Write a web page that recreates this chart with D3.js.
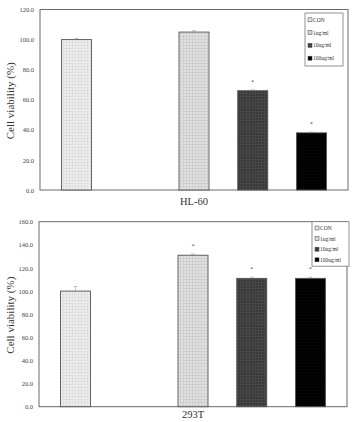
<!DOCTYPE html>
<html><head><meta charset="utf-8">
<script src="https://cdn.jsdelivr.net/npm/d3@7"></script>
<style>body{margin:0;background:#fff}svg{display:block}text{font-family:"Liberation Serif","DejaVu Serif",serif}</style>
</head><body>
<svg id="c" width="353" height="422"></svg>
<script>
// data
const slots = ["CON", "gap", "1ug/ml", "10ug/ml", "100ug/ml"];
const legendLabels = ["CON", "1ug/ml", "10ug/ml", "100ug/ml"];
const hl60Values = [100.0, 105.0, 66.0, 38.0];
const hl60Errors = [0.8, 0.8, 0.6, 0.5];
const hl60Sig = [false, false, true, true];
const t293Values = [100.0, 131.0, 111.0, 111.0];
const t293Errors = [4.0, 1.0, 1.0, 1.0];
const t293Sig = [false, true, true, true];
const hl60Ticks = [0, 20, 40, 60, 80, 100, 120];
const t293Ticks = [0, 20, 40, 60, 80, 100, 120, 140, 160];

const svg = d3.select("#c");
const defs = svg.append("defs");
const patSpec = [
  {id: "p0", base: "#ededed", line: "#d6d6d6"},
  {id: "p1", base: "#e0e0e0", line: "#c4c4c4"},
  {id: "p2", base: "#3a3a3a", line: "#505050"},
  {id: "p3", base: "#000000", line: "#080808"}
];
patSpec.forEach(p => {
  const pt = defs.append("pattern").attr("id", p.id).attr("patternUnits", "userSpaceOnUse")
    .attr("width", 3).attr("height", 3);
  pt.append("rect").attr("width", 3).attr("height", 3).attr("fill", p.base);
  pt.append("rect").attr("x", 0).attr("y", 0).attr("width", 3).attr("height", 0.5).attr("fill", p.line);
  pt.append("rect").attr("x", 0).attr("y", 0).attr("width", 0.5).attr("height", 3).attr("fill", p.line);
});

function panel(cfg) {
  const {x0, x1, y0, y1, max, ticks, values, errors, sig, label, labelY, legend} = cfg;
  const g = svg.append("g");
  const x = d3.scaleBand().domain(slots).range([x0, x1]).paddingInner(0.489).paddingOuter(0.366);
  const y = d3.scaleLinear().domain([0, max]).range([y1, y0]);
  const keys = slots.filter(s => s !== "gap");

  // frame
  g.append("rect").attr("x", x0).attr("y", y0).attr("width", x1 - x0).attr("height", y1 - y0)
    .attr("fill", "none").attr("stroke", "#6a6a6a").attr("stroke-width", 1);

  // y axis
  const ax = g.append("g").attr("transform", `translate(${x0},0)`)
    .call(d3.axisLeft(y).tickValues(ticks).tickFormat(d3.format(".1f")).tickSize(0).tickPadding(6));
  ax.select(".domain").remove();
  ax.selectAll("text").attr("font-size", 6.5).attr("fill", "#444")
    .style("font-family", '"Liberation Serif","DejaVu Serif",serif');

  // bars
  const data = keys.map((k, i) => ({k, v: values[i], e: errors[i], s: sig[i], i}));
  g.selectAll("rect.bar").data(data).enter().append("rect").attr("class", "bar")
    .attr("x", d => x(d.k)).attr("y", d => y(d.v))
    .attr("width", x.bandwidth()).attr("height", d => y(0) - y(d.v))
    .attr("fill", d => `url(#p${d.i})`).attr("stroke", "#555").attr("stroke-width", 0.9);

  // error bars
  const eb = g.selectAll("g.eb").data(data).enter().append("g").attr("stroke", "#888").attr("stroke-width", 0.5);
  eb.append("line").attr("x1", d => x(d.k) + x.bandwidth() / 2).attr("x2", d => x(d.k) + x.bandwidth() / 2)
    .attr("y1", d => y(d.v)).attr("y2", d => y(d.v + d.e));
  eb.append("line").attr("x1", d => x(d.k) + x.bandwidth() / 2 - 2).attr("x2", d => x(d.k) + x.bandwidth() / 2 + 2)
    .attr("y1", d => y(d.v + d.e)).attr("y2", d => y(d.v + d.e));

  // significance asterisks
  g.selectAll("text.sig").data(data.filter(d => d.s)).enter().append("text").attr("class", "sig")
    .attr("x", d => x(d.k) + x.bandwidth() / 2).attr("y", d => y(d.v) - 7)
    .attr("text-anchor", "middle").attr("font-size", 5.5).attr("fill", "#333").text("*");

  // y title
  g.append("text").attr("transform", `translate(14,${(y0 + y1) / 2 + 1}) rotate(-90)`)
    .attr("text-anchor", "middle").attr("font-size", 11).attr("fill", "#333").text("Cell viability (%)");

  // x label
  g.append("text").attr("x", (x0 + x1) / 2).attr("y", labelY).attr("text-anchor", "middle")
    .attr("font-size", 10.5).attr("fill", "#333").text(label);

  // legend
  const lg = g.append("g");
  lg.append("rect").attr("x", legend.x).attr("y", legend.y).attr("width", legend.w).attr("height", legend.h)
    .attr("fill", "#fff").attr("stroke", "#777").attr("stroke-width", 0.8);
  legendLabels.forEach((t, i) => {
    const yy = legend.y + legend.first + i * legend.step;
    lg.append("rect").attr("x", legend.x + 3).attr("y", yy - 2.2).attr("width", 4).attr("height", 4)
      .attr("fill", `url(#p${i})`).attr("stroke", "#444").attr("stroke-width", 0.5);
    lg.append("text").attr("x", legend.x + 8).attr("y", yy + 1.8).attr("font-size", 5.5)
      .attr("fill", "#333").text(t);
  });
}

panel({x0: 40, x1: 348, y0: 9.5, y1: 190, max: 120, ticks: hl60Ticks,
  values: hl60Values, errors: hl60Errors, sig: hl60Sig, label: "HL-60", labelY: 205,
  legend: {x: 305, y: 13, w: 38, h: 53, first: 7, step: 12.8}});
panel({x0: 39, x1: 347, y0: 221.7, y1: 406.7, max: 160, ticks: t293Ticks,
  values: t293Values, errors: t293Errors, sig: t293Sig, label: "293T", labelY: 418,
  legend: {x: 312, y: 221.7, w: 37, h: 44.5, first: 6.5, step: 10.6}});
</script>
</body></html>
